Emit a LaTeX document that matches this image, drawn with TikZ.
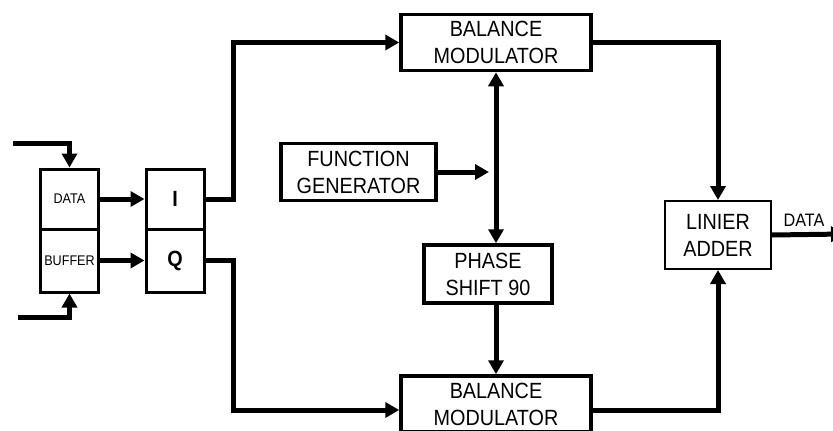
\documentclass[tikz,border=0pt]{standalone}
\usepackage{fontspec}
\newfontfamily\boxfont[FakeStretch=0.9]{Liberation Sans}
\newcommand\blkfont{\boxfont\fontsize{22}{27}\selectfont}
\newcommand\cellfont{\boxfont\fontsize{14}{16}\selectfont}
\usetikzlibrary{arrows.meta,calc}
\tikzset{
  blk/.style={draw,line width=3.5pt,align=center,inner sep=0pt,font=\blkfont},
  cell/.style={draw,line width=3pt,inner sep=0pt,minimum width=58pt},
  wire/.style={line width=5pt},
  flow/.style={wire,-{Triangle[length=14pt,width=15pt]}},
  flow2/.style={wire,{Triangle[length=14pt,width=15pt]}-{Triangle[length=14pt,width=15pt]}}
}
\begin{document}
\begin{tikzpicture}[x=1pt,y=-1pt]
  \useasboundingbox (0,0) rectangle (833,431);
  % modulators and the rest
  \node[blk,minimum width=190pt,minimum height=56pt] (bmtop) at (496,42.5) {BALANCE\\MODULATOR};
  \node[blk,minimum width=190pt,minimum height=56pt] (bmbot) at (496,404) {BALANCE\\MODULATOR};
  \node[blk,minimum width=155pt,minimum height=57pt] (fg) at (358.5,172) {FUNCTION\\GENERATOR};
  \node[blk,minimum width=128pt,minimum height=58pt] (ps) at (488,274) {PHASE\\SHIFT 90};
  \node[blk,line width=2pt,minimum width=106pt,minimum height=68pt] (add) at (718,235) {LINIER\\ADDER};
  % data buffer, I/Q
  \node[cell,minimum height=60pt,font=\cellfont] (data) at (69.5,199) {DATA};
  \node[cell,minimum height=63pt,font=\cellfont] (buf) at (69.5,260.5) {BUFFER};
  \node[cell,minimum height=60pt,font=\boxfont\bfseries\fontsize{22}{24}\selectfont] (chI) at (175,199) {I};
  \node[cell,minimum height=63pt,font=\boxfont\bfseries\fontsize{22}{24}\selectfont] (chQ) at (175,260.5) {Q};
  \node[font=\boxfont\fontsize{18}{20}\selectfont] (lblout) at (804,220) {DATA};
  \coordinate (intop) at (13,143);
  \coordinate (inbot) at (18,317);
  \coordinate (fgtip) at ($(fg.east -| bmtop.south)+(-7,0)$);
  \coordinate (out) at (845,234);
  % connectors
  \draw[flow] (intop) -| (data.north);
  \draw[flow] (inbot) -| (buf.south);
  \draw[flow] (data) -- (chI);
  \draw[flow] (buf) -- (chQ);
  \draw[flow] (chI.east) -- ++(28,0) |- (bmtop.west);
  \draw[flow] (chQ.east) -- ++(28,0) |- ([yshift=-6pt]bmbot.west);
  \draw[flow] (bmtop.east) -| (add.north);
  \draw[flow] ([yshift=-6pt]bmbot.east) -| (add.south);
  \draw[flow2] (bmtop.south) -- (bmtop.south |- ps.north);
  \draw[flow] (fg.east) -- (fgtip);
  \draw[flow] (ps.south -| bmtop.south) -- (bmbot.north);
  \draw[flow] (add.east) -- (out);
\end{tikzpicture}
\end{document}
